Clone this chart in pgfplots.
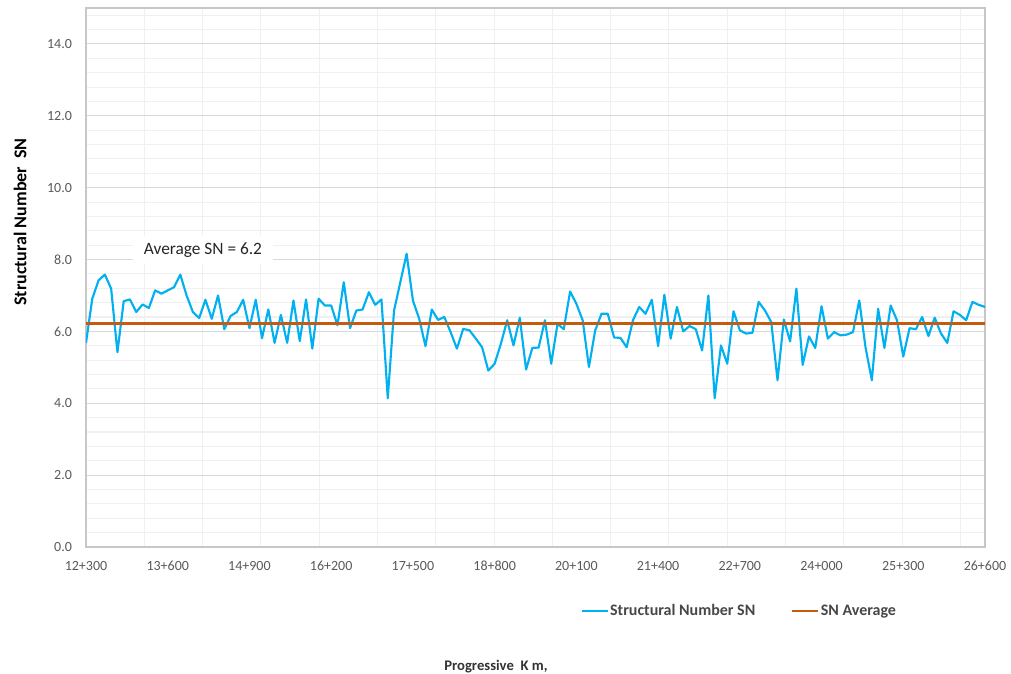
\documentclass[border=0pt]{standalone}
\usepackage{pgfplots}
\pgfplotsset{compat=1.18}
\usepackage{fontspec}
\setmainfont{Carlito}
\definecolor{snblue}{HTML}{00B0F0}
\definecolor{snorange}{HTML}{C55A11}
\definecolor{ticktext}{HTML}{595959}
\definecolor{majgrid}{HTML}{D9D9D9}
\definecolor{mingrid}{HTML}{F0F0F0}
\pgfplotstableread{
i v
0 5.68
1 6.91
2 7.42
3 7.58
4 7.19
5 5.42
6 6.84
7 6.89
8 6.54
9 6.75
10 6.65
11 7.14
12 7.05
13 7.14
14 7.23
15 7.58
16 7.00
17 6.54
18 6.37
19 6.88
20 6.35
21 7.00
22 6.06
23 6.43
24 6.54
25 6.88
26 6.09
27 6.88
28 5.81
29 6.61
30 5.68
31 6.46
32 5.68
33 6.86
34 5.73
35 6.89
36 5.52
37 6.91
38 6.72
39 6.72
40 6.17
41 7.37
42 6.09
43 6.58
44 6.61
45 7.09
46 6.74
47 6.89
48 4.14
49 6.58
50 7.37
51 8.16
52 6.86
53 6.35
54 5.59
55 6.61
56 6.32
57 6.40
58 5.98
59 5.52
60 6.07
61 6.03
62 5.80
63 5.56
64 4.91
65 5.10
66 5.66
67 6.31
68 5.61
69 6.38
70 4.94
71 5.54
72 5.55
73 6.31
74 5.10
75 6.21
76 6.06
77 7.11
78 6.77
79 6.31
80 5.01
81 6.03
82 6.49
83 6.49
84 5.83
85 5.82
86 5.56
87 6.31
88 6.68
89 6.49
90 6.88
91 5.59
92 7.02
93 5.80
94 6.68
95 6.00
96 6.15
97 6.06
98 5.47
99 7.00
100 4.14
101 5.61
102 5.10
103 6.56
104 6.03
105 5.94
106 5.96
107 6.82
108 6.58
109 6.26
110 4.64
111 6.33
112 5.72
113 7.19
114 5.07
115 5.86
116 5.54
117 6.70
118 5.80
119 5.98
120 5.89
121 5.91
122 5.98
123 6.86
124 5.55
125 4.64
126 6.63
127 5.54
128 6.72
129 6.31
130 5.30
131 6.09
132 6.06
133 6.40
134 5.87
135 6.38
136 5.94
137 5.68
138 6.56
139 6.46
140 6.31
141 6.82
142 6.74
143 6.68
}\sndata
\begin{document}
\begin{tikzpicture}
\path[use as bounding box] (0,0) rectangle (758.25pt,505.5pt);
\begin{axis}[
  at={(64.5pt,95.25pt)}, anchor=south west,
  width=674.25pt, height=404.25pt, scale only axis,
  xmin=0, xmax=143, ymin=0, ymax=15,
  xtick={0,13,...,143},
  xticklabels={12+300,13+600,14+900,16+200,17+500,18+800,20+100,21+400,22+700,24+000,25+300,26+600},
  minor xtick={9.273,18.545,27.818,37.091,46.364,55.636,64.909,74.182,83.455,92.727,102.0,111.273,120.545,129.818,139.091},
  ytick={0,2,...,14},
  minor ytick={0.4,0.8,...,14.8},
  yticklabel={\pgfmathprintnumber[fixed,fixed zerofill,precision=1]{\tick}},
  /pgf/number format/assume math mode=true,
  major tick length=0pt, minor tick length=0pt,
  ymajorgrids, yminorgrids, xminorgrids,
  major grid style={color=majgrid, line width=0.8pt},
  minor grid style={color=mingrid, line width=0.8pt},
  axis line style={color=black!22, line width=0.8pt},
  tick label style={font=\fontsize{10.5pt}{12pt}\selectfont, color=ticktext},
  y tick label style={xshift=-7pt},
  x tick label style={yshift=-7pt},
  ylabel={Structural Number\ \ SN},
  xlabel={Progressive\ \ K m,},
  every axis y label/.style={at={(axis description cs:-0.0734,0.603)}, rotate=90, anchor=center,
    font=\fontsize{13.5pt}{15pt}\selectfont\bfseries, text=black},
  every axis x label/.style={at={(axis description cs:0.456,-0.2226)}, anchor=center,
    font=\fontsize{11pt}{13pt}\selectfont\bfseries, text=black!80},
  legend columns=2,
  legend style={at={(axis description cs:0.5455,-0.119)}, anchor=west, draw=none, fill=none,
    font=\fontsize{12pt}{14pt}\selectfont\bfseries, text=black!72,
    /tikz/every even column/.append style={column sep=26pt},
    nodes={inner sep=1pt}},
  legend image code/.code={\draw[#1] (0pt,0pt) -- (19.5pt,0pt);},
]
\addplot[color=snblue, line width=1.6pt, line join=round] table[x=i,y=v] {\sndata};
\addlegendentry{Structural Number SN}
\addplot[color=snorange, line width=1.6pt] coordinates {(0,6.22) (143,6.22)};
\addlegendentry{SN Average}
\node[fill=white, inner xsep=8pt, inner ysep=5pt, font=\fontsize{13pt}{15pt}\selectfont, text=black!85] at (axis cs:18.6,8.27) {Average SN = 6.2};
\end{axis}
\end{tikzpicture}
\end{document}
